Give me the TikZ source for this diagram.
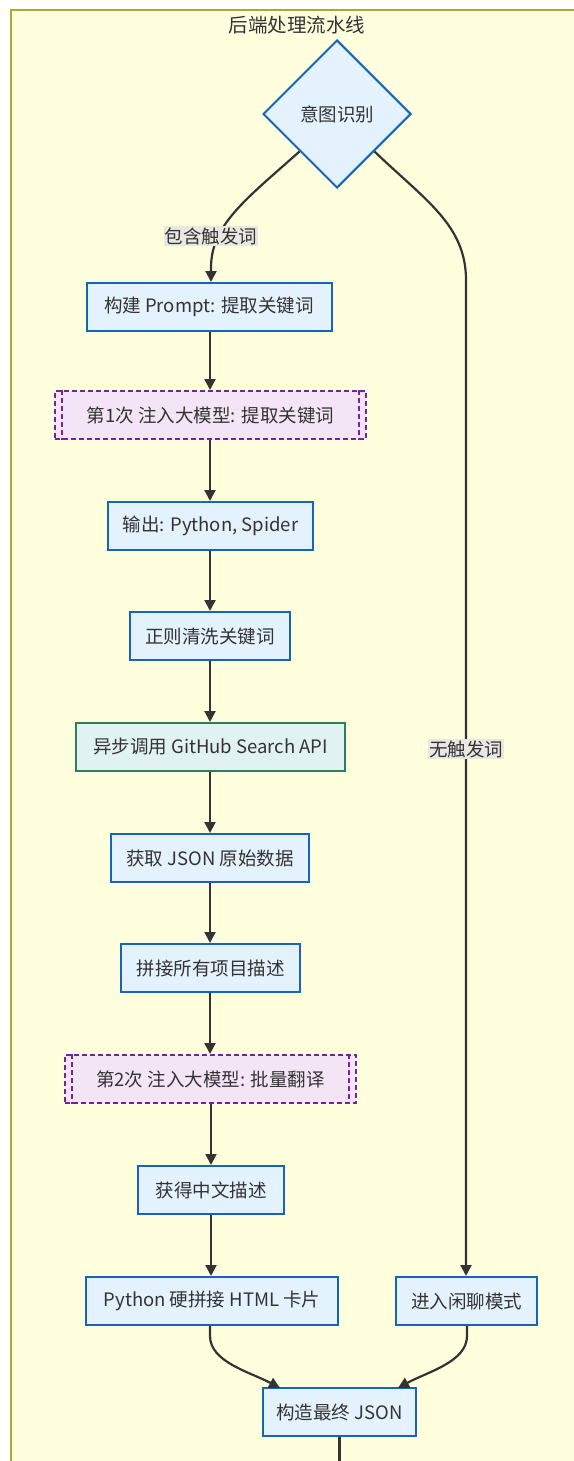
\documentclass[tikz,border=0pt]{standalone}
\usepackage{fontspec}
\setmainfont{Noto Sans CJK SC}
\usetikzlibrary{shapes.geometric,arrows.meta,calc}
\definecolor{bgyellow}{HTML}{FFFFDE}
\definecolor{bgborder}{HTML}{AAAA33}
\definecolor{boxfill}{HTML}{E3F2FD}
\definecolor{boxdraw}{HTML}{1565C0}
\definecolor{grnfill}{HTML}{E0F2F1}
\definecolor{grndraw}{HTML}{2E7D5F}
\definecolor{subfill}{HTML}{F3E5F5}
\definecolor{subdraw}{HTML}{7B1FA2}
\definecolor{txt}{HTML}{333333}
\definecolor{lblbg}{HTML}{E8E8E2}
\tikzset{
  base/.style={font=\fontsize{18.5}{22}\selectfont, text=txt, inner sep=0pt, minimum height=48pt, line width=2pt},
  procbox/.style={base, rectangle, fill=boxfill, draw=boxdraw},
  apibox/.style={base, rectangle, fill=grnfill, draw=grndraw},
  llmbox/.style={base, rectangle, fill=subfill, draw=subdraw, dash pattern=on 5pt off 3pt},
  llmline/.style={draw=subdraw, line width=2pt, dash pattern=on 5pt off 3pt},
  decide/.style={base, diamond, aspect=1, fill=boxfill, draw=boxdraw, minimum width=148pt, minimum height=148pt},
  flow/.style={draw=txt, line width=2.2pt, -{Triangle[length=11pt,width=11pt]}},
  plain/.style={draw=txt, line width=2.2pt},
  elabel/.style={font=\fontsize{18.5}{22}\selectfont, text=txt, fill=lblbg, inner sep=1pt},
  title/.style={font=\fontsize{19.5}{22}\selectfont, text=txt, inner sep=0pt}
}
\begin{document}
\begin{tikzpicture}[x=1pt,y=-1pt]
\useasboundingbox (0,0) rectangle (573,1461);
\fill[white] (0,0) rectangle (573,1461);
\filldraw[fill=bgyellow, draw=bgborder, line width=1.5pt] (11,10) rectangle (590,1480);

\node[title] (ttl) at (297,25) {后端处理流水线};
\node[decide] (d) at (337,114) {意图识别};

\node[procbox, minimum width=245pt] (b1) at (209,307) {构建 Prompt: 提取关键词};
\node[llmbox, minimum width=311pt] (s1) at (210.5,415) {第1次 注入大模型: 提取关键词};
\node[procbox, minimum width=205pt] (b3) at (210.5,526) {输出: Python, Spider};
\node[procbox, minimum width=160pt] (b4) at (210,636) {正则清洗关键词};
\node[apibox, minimum width=269pt] (g5) at (210.5,747) {异步调用 GitHub Search API};
\node[procbox, minimum width=198pt] (b6) at (210,858) {获取 JSON 原始数据};
\node[procbox, minimum width=179pt] (b7) at (210.5,968) {拼接所有项目描述};
\node[llmbox, minimum width=291pt] (s2) at (210.5,1079) {第2次 注入大模型: 批量翻译};
\node[procbox, minimum width=146pt] (b9) at (211,1190) {获得中文描述};
\node[procbox, minimum width=252pt] (b10) at (212,1301) {Python 硬拼接 HTML 卡片};
\node[procbox, minimum width=141pt] (chat) at (466.5,1301) {进入闲聊模式};
\node[procbox, minimum width=153pt] (fin) at (339.5,1412) {构造最终 JSON};

% inner bars of subroutine boxes
\draw[llmline] ([xshift=8pt]s1.north west) -- ([xshift=8pt]s1.south west);
\draw[llmline] ([xshift=-8pt]s1.north east) -- ([xshift=-8pt]s1.south east);
\draw[llmline] ([xshift=8pt]s2.north west) -- ([xshift=8pt]s2.south west);
\draw[llmline] ([xshift=-8pt]s2.north east) -- ([xshift=-8pt]s2.south east);

% branch edges
\coordinate (dl) at ($(d.west)!0.5!(d.south)$);
\coordinate (dr) at ($(d.east)!0.5!(d.south)$);
\draw[flow] (dl) .. controls (245,200) and (211,225) .. (211,268) -- (b1.north -| 211,0);
\node[elabel] (l1) at (211,236) {包含触发词};
\draw[flow] (dr) .. controls (425,200) and (466,225) .. (466,280) -- (chat.north -| 466,0);
\node[elabel] (l2) at (466,749) {无触发词};

% main column
\draw[flow] (b1.south -| 210,0) -- (s1.north -| 210,0);
\draw[flow] (s1.south -| 210,0) -- (b3.north -| 210,0);
\draw[flow] (b3.south -| 210,0) -- (b4.north -| 210,0);
\draw[flow] (b4.south -| 210,0) -- (g5.north -| 210,0);
\draw[flow] (g5.south -| 210,0) -- (b6.north -| 210,0);
\draw[flow] (b6.south -| 210,0) -- (b7.north -| 210,0);
\draw[flow] (b7.south -| 210,0) -- (s2.north -| 210,0);
\draw[flow] (s2.south -| 211,0) -- (b9.north -| 211,0);
\draw[flow] (b9.south -| 211,0) -- (b10.north -| 211,0);

% merge
\draw[flow] (b10.south -| 210,0) -- (210,1336) .. controls (210,1362) and (250,1372) .. (280,1388);
\draw[flow] (chat.south -| 467,0) -- (467,1336) .. controls (467,1362) and (427,1372) .. (398,1388);

% outgoing
\coordinate (out) at (339.5,1470);
\draw[plain] (fin.south) -- (out);
\end{tikzpicture}
\end{document}
